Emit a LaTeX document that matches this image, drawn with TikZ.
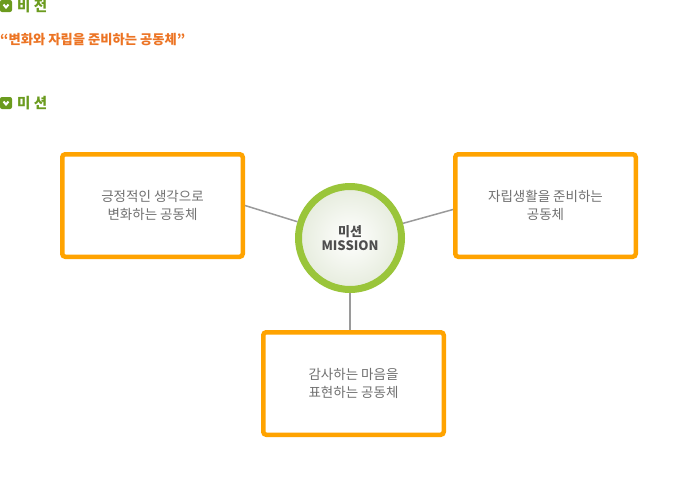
\documentclass[tikz,border=0pt]{standalone}
\usepackage{fontspec}
\setmainfont{Noto Sans CJK KR}
\definecolor{headgreen}{HTML}{6B9B1E}
\definecolor{visionorange}{HTML}{EC7424}
\definecolor{boxorange}{HTML}{FFA300}
\definecolor{ringgreen}{HTML}{9AC53A}
\definecolor{linegray}{HTML}{9A9A9A}
\definecolor{boxgray}{HTML}{707070}
\definecolor{missiongray}{HTML}{4E4E4E}
\definecolor{circleshade}{HTML}{E6ECDD}
\tikzset{
	heading/.style={
		anchor=west,
		inner sep=0pt,
		text=headgreen,
		font=\bfseries\fontsize{14.5}{16}\selectfont
	},
	headicon/.style={
		fill=headgreen,
		draw=none,
		rounded corners=2pt
	},
	missionbox/.style={
		draw=boxorange,
		line width=4.5pt,
		rounded corners=3pt,
		fill=white,
		minimum width=180.5pt,
		minimum height=102.5pt,
		align=center,
		text=boxgray,
		font=\fontsize{13.5}{18}\selectfont
	},
	link/.style={
		draw=linegray,
		line width=1.5pt
	}
}

\begin{document}
\begin{tikzpicture}[x=1pt,y=-1pt]
			\useasboundingbox (0,0) rectangle (700,490);
			\draw [headicon] (0,0) rectangle (12,12);
			\draw [white, line width=2pt] (3.5,4.5) -- (6,7.5) -- (8.5,4.5);
			\node[heading] (vision) at (17,6.5) {비 전};
			\node[anchor=west, inner sep=0pt, text=visionorange, font=\bfseries\fontsize{13.3}{15}\selectfont] (visiontext) at (0,40) {“변화와 자립을 준비하는 공동체”};
			\draw [headicon] (0,97) rectangle (12,109);
			\draw [white, line width=2pt] (3.5,101.5) -- (6,104.5) -- (8.5,101.5);
			\node[heading] (mission) at (17,103.5) {미 션};
			
			\node[missionbox] (positive) at (152.5,205.5) {긍정적인 생각으로\\변화하는 공동체};
			\node[missionbox] (independ) at (545.5,205.5) {자립생활을 준비하는\\공동체};
			\node[missionbox] (thanks) at (353.5,383.5) {감사하는 마음을\\표현하는 공동체};
			\node[circle, draw=ringgreen, line width=7pt, minimum size=103pt, inner color=white, outer color=circleshade, align=center, text=missiongray, font=\bfseries\fontsize{13}{14.5}\selectfont] (center) at (350,238) {미션\\MISSION};
			
			\draw[link] (positive.east) -- (center);
			\draw[link] ([yshift=-4pt]independ.west) -- (center);
			\draw[link] (center) -- (center |- thanks.north);
			
		\end{tikzpicture}
\end{document}
